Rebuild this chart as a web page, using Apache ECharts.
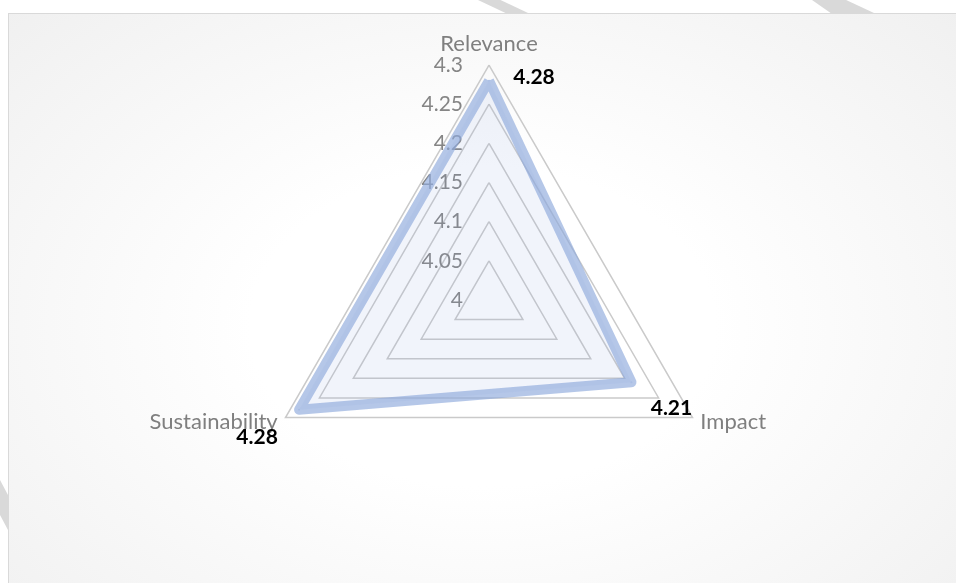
<!DOCTYPE html>
<html><head><meta charset="utf-8">
<script src="https://cdn.jsdelivr.net/npm/echarts@6/dist/echarts.min.js"></script>
<style>
html,body{margin:0;padding:0;background:#fff;width:956px;height:583px;overflow:hidden;position:relative}
.stripe{position:absolute;background:#d9d9d9}
#chart{position:absolute;left:8px;top:13px;width:947px;height:569px;border-left:1px solid #d9d9d9;border-top:1px solid #d9d9d9;
background:radial-gradient(ellipse 70% 80% at 50% 55%, #ffffff 0%, #ffffff 35%, #f0f0f0 100%);}
</style></head>
<body>
<div class="stripe" style="left:478px;top:0;width:50px;height:13px;clip-path:polygon(0 0,45% 0,100% 100%,55% 100%)"></div>
<div class="stripe" style="left:812px;top:0;width:62px;height:13px;clip-path:polygon(0 0,55% 0,100% 100%,30% 100%)"></div>
<div class="stripe" style="left:0;top:480px;width:8px;height:50px;clip-path:polygon(0 0,100% 30%,100% 100%,0 70%)"></div>
<div id="chart"></div>
<script>
// ---- data ----
const indicatorNames = ['Relevance', 'Sustainability', 'Impact']; // counter-clockwise from top
const scores = [4.28, 4.28, 4.21];
const axisMin = 4;
const axisMax = 4.3;
const axisSplits = 6;
const tickLabels = ['4', '4.05', '4.1', '4.15', '4.2', '4.25', '4.3'];

// ---- layout ----
const CX = 480, CY = 286, R = 235;
const FONT = 'Lato';

const chart = echarts.init(document.getElementById('chart'), null, {renderer: 'canvas'});
chart.setOption({
  animation: false,
  radar: {
    center: [CX, CY],
    radius: R,
    startAngle: 90,
    shape: 'polygon',
    splitNumber: axisSplits,
    nameGap: 9,
    axisName: {color: '#7f7f7f', fontFamily: FONT, fontSize: 22},
    axisLine: {show: false},
    axisTick: {show: false},
    axisLabel: {
      show: true, color: '#858585', fontFamily: FONT, fontSize: 21, margin: 26,
      formatter: function (v, i) { return tickLabels[i] !== undefined ? tickLabels[i] : ''; }
    },
    splitLine: {lineStyle: {color: '#cacaca', width: 1.5}},
    splitArea: {show: false},
    indicator: indicatorNames.map(function (n, i) {
      const o = {name: n, min: axisMin, max: axisMax};
      if (i !== 0) o.axisLabel = {show: false};
      return o;
    })
  },
  series: [{
    type: 'radar',
    symbol: 'circle',
    symbolSize: 2,
    itemStyle: {color: '#a9bde4'},
    lineStyle: {color: 'rgba(143,170,220,0.66)', width: 10, join: 'round'},
    areaStyle: {color: 'rgba(143,170,220,0.18)'},
    label: {
      show: true, position: 'inside', color: '#000', fontWeight: 'bold',
      fontFamily: FONT, fontSize: 21,
      formatter: function (p) { return p.value.toFixed(2); }
    },
    labelLayout: function (p) {
      const mx = p.rect.x + p.rect.width / 2, my = p.rect.y + p.rect.height / 2;
      if (my < CY - 100) return {dx: 45, dy: -3};
      if (mx < CX) return {dx: -42, dy: 28};
      return {dx: 40, dy: 26};
    },
    data: [{value: scores, name: 'Score'}]
  }]
});
</script>
</body></html>
